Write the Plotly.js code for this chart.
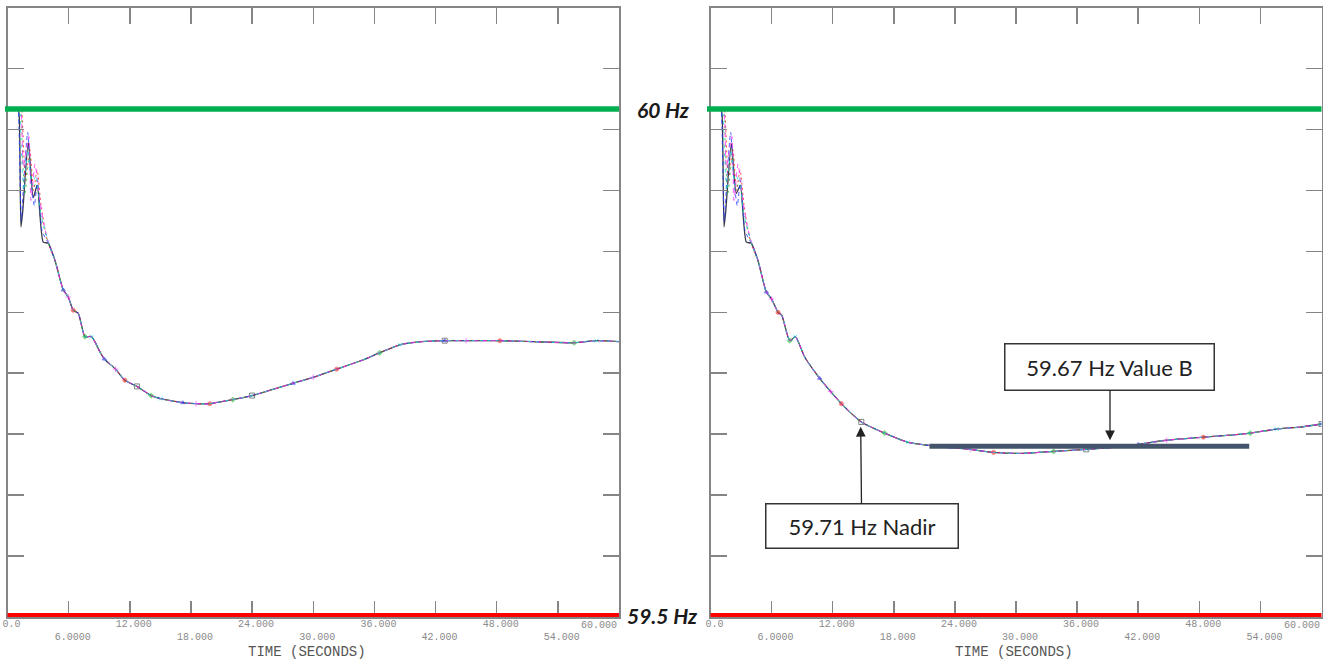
<!DOCTYPE html>
<html>
<head>
<meta charset="utf-8">
<script src="https://cdn.plot.ly/plotly-3.0.1.min.js"></script>
<style>html,body{margin:0;padding:0;background:#fff;}#chart{width:1323px;height:663px;}</style>
</head>
<body>
<div id="chart"></div>
<script>
// ---------- DATA ----------
// Left panel: base (black) frequency trace, time in seconds, frequency in Hz
const leftT = [0, 0.5, 1.0, 1.13, 1.32, 1.5, 2.04, 2.53, 2.92, 3.51, 4.0, 4.66, 5.47, 5.96, 6.45, 6.94, 7.6, 8.25, 9.07, 9.5, 10.6, 11.52, 12.7, 14.1, 15.0, 16.0, 17.2, 18.5, 19.85, 21.0, 22.1, 24.0, 25.7, 28.0, 30.0, 32.3, 34.6, 36.5, 38.5, 40.6, 42.9, 45.0, 48.3, 51.6, 55.6, 57.8, 60.0];
const leftF = [60.0, 60.0, 60.0, 59.996, 59.884, 59.900, 59.967, 59.913, 59.925, 59.869, 59.868, 59.851, 59.822, 59.815, 59.802, 59.799, 59.776, 59.776, 59.761, 59.754, 59.744, 59.733, 59.727, 59.718, 59.715, 59.713, 59.711, 59.710, 59.710, 59.712, 59.714, 59.718, 59.723, 59.730, 59.736, 59.744, 59.752, 59.760, 59.768, 59.771, 59.772, 59.772, 59.772, 59.771, 59.770, 59.772, 59.771];

// Right panel: base (black) frequency trace
const rightT = [0, 0.5, 1.0, 1.13, 1.33, 1.5, 2.05, 2.53, 2.93, 3.52, 4.0, 4.66, 5.48, 6.0, 6.63, 7.0, 7.78, 8.33, 9.25, 10.72, 11.8, 12.85, 14.81, 17.1, 19.4, 21.4, 23.5, 25.5, 27.8, 30.4, 33.7, 36.9, 39.6, 42.0, 44.8, 48.4, 51.0, 53.0, 55.6, 57.9, 60.0];
const rightF = [60.0, 60.0, 60.0, 59.995, 59.884, 59.900, 59.966, 59.917, 59.925, 59.869, 59.868, 59.851, 59.820, 59.813, 59.800, 59.797, 59.772, 59.776, 59.756, 59.735, 59.722, 59.710, 59.692, 59.681, 59.672, 59.669, 59.667, 59.665, 59.662, 59.661, 59.663, 59.665, 59.667, 59.670, 59.674, 59.677, 59.679, 59.681, 59.685, 59.687, 59.690];

// Early-oscillation segments of the other (dashed) simulation traces, same in both panels
const blueHeadT = [0, 1.0, 1.1, 1.35, 1.6, 1.98, 2.3, 2.63, 2.95, 3.4, 4.0];
const blueHeadF = [60.0, 60.0, 59.990, 59.890, 59.930, 59.977, 59.930, 59.905, 59.930, 59.880, 59.868];
const magentaHeadT = [0, 1.2, 1.4, 1.55, 2.1, 2.3, 2.7, 3.1, 3.6, 4.0];
const magentaHeadF = [60.0, 60.0, 59.985, 59.943, 59.973, 59.910, 59.946, 59.915, 59.885, 59.870];
const redHeadT = [0, 1.3, 1.5, 1.75, 2.2, 2.55, 2.9, 3.3, 3.8, 4.2];
const redHeadF = [60.0, 60.0, 59.980, 59.930, 59.960, 59.920, 59.940, 59.905, 59.875, 59.862];
const greenHeadT = [0, 1.2, 1.45, 1.7, 2.15, 2.5, 2.85, 3.3, 3.8, 4.2];
const greenHeadF = [60.0, 60.0, 59.960, 59.915, 59.955, 59.920, 59.930, 59.895, 59.875, 59.862];
const cyanHeadT = [0, 1.1, 1.3, 1.6, 2.0, 2.4, 2.8, 3.2, 3.7, 4.1];
const cyanHeadF = [60.0, 60.0, 59.970, 59.920, 59.960, 59.925, 59.935, 59.900, 59.880, 59.866];

// Reference levels and annotations
const upperHz = 60.0;
const lowerHz = 59.5;
const valueB = 59.668;
const valueBT = [21.5, 52.9];
const valueBF = [valueB, valueB];
const nadirLabel = "59.71 Hz Nadir";
const valueBLabel = "59.67 Hz Value B";

// Axis ticks
const xTickVals = [0, 6, 12, 18, 24, 30, 36, 42, 48, 54, 60];
const xTickText = ["0.0", "6.0000", "12.000", "18.000", "24.000", "30.000", "36.000", "42.000", "48.000", "54.000", "60.000"];
const axisTitle = "TIME (SECONDS)";

// ---------- BUILD ----------
function combine(hT, hF, bT, bF) {
  const last = hT[hT.length - 1];
  const t = hT.slice(), f = hF.slice();
  bT.forEach((v, i) => { if (v > last) { t.push(v); f.push(bF[i]); } });
  return {t, f, headLen: hT.length};
}

const variants = [
  {hT: blueHeadT, hF: blueHeadF, color: '#2a3cff', dash: '4px,3px', sym: 'triangle-up', k: 1},
  {hT: redHeadT, hF: redHeadF, color: '#ff2020', dash: '2px,3px', sym: 'circle', k: 3},
  {hT: greenHeadT, hF: greenHeadF, color: '#22c040', dash: '2px,4px', sym: 'diamond', k: 5},
  {hT: magentaHeadT, hF: magentaHeadF, color: '#ff30ff', dash: '5px,4px', sym: 'cross-thin-open', k: 2},
  {hT: cyanHeadT, hF: cyanHeadF, color: '#20d8d8', dash: '3px,5px', sym: 'x-thin-open', k: 6}
];

const traces = [];
function addPanel(baseT, baseF, xa, ya) {
  traces.push({
    x: baseT, y: baseF, xaxis: xa, yaxis: ya, type: 'scatter', mode: 'lines+markers',
    line: {color: '#3a3a4a', width: 1.3, shape: 'spline', smoothing: 0.6},
    marker: {symbol: 'square-open', color: '#555', size: baseT.map((v, i) => (i > 14 && i % 9 === 4) ? 5 : 0)},
    hoverinfo: 'skip'
  });
  variants.forEach(v => {
    const c = combine(v.hT, v.hF, baseT, baseF);
    traces.push({
      x: c.t, y: c.f, xaxis: xa, yaxis: ya, type: 'scatter', mode: 'lines+markers',
      line: {color: v.color, width: 1, dash: v.dash, shape: 'spline', smoothing: 0.6},
      opacity: 0.8,
      marker: {symbol: v.sym, color: v.color, size: c.t.map((t, i) => (i >= c.headLen && (i - c.headLen) % 7 === v.k) ? 4 : 0), line: {color: v.color, width: 1}},
      hoverinfo: 'skip'
    });
  });
}
addPanel(leftT, leftF, 'x', 'y');
addPanel(rightT, rightF, 'x2', 'y2');

// Value B bar
traces.push({
  x: valueBT, y: valueBF, xaxis: 'x2', yaxis: 'y2', type: 'scatter', mode: 'lines',
  line: {color: '#44546a', width: 5}, hoverinfo: 'skip'
});

const W = 1323, H = 663;
const yDom = [(H - 617) / H, (H - 7.5) / H];
const tickFont = {family: 'Liberation Mono, DejaVu Sans Mono, monospace', size: 10, color: '#8a8a8a'};
// alternate rows; last label is drawn right-aligned separately
const ticktextRows = xTickText.map((s, i) => i === xTickText.length - 1 ? '' : (i % 2 === 1 ? '<br>' + s : s));

function xAxis(dom, anchor) {
  return {
    domain: dom, anchor: anchor, range: [0, 60], showgrid: false, zeroline: false,
    showline: true, linecolor: '#858585', linewidth: 1.5, mirror: 'ticks',
    ticks: 'inside', ticklen: 16, tickwidth: 1.5, tickcolor: '#858585',
    tickmode: 'array', tickvals: xTickVals, ticktext: ticktextRows,
    tickfont: tickFont, ticklabelshift: 4, ticklabelstandoff: -4, automargin: false, fixedrange: true
  };
}
function yAxis(anchor) {
  return {
    domain: yDom, anchor: anchor, range: [59.5, 60.1], showgrid: false, zeroline: false,
    showline: true, linecolor: '#858585', linewidth: 1.5, mirror: 'ticks',
    ticks: 'inside', ticklen: 16, tickwidth: 1.5, tickcolor: '#858585',
    tick0: 59.5, dtick: 0.06, showticklabels: false, automargin: false, fixedrange: true
  };
}

const labelFont = {family: 'Lato, Open Sans, sans-serif', size: 22, color: '#222'};
const hzFont = {family: 'Lato, Open Sans, sans-serif', size: 21, color: '#1a1a1a', weight: 'bold', style: 'italic'};
const titleFont = {family: 'Liberation Mono, DejaVu Sans Mono, monospace', size: 14, color: '#555'};
const lastLabel = xTickText[xTickText.length - 1];
const lastVal = xTickVals[xTickVals.length - 1];

const layout = {
  width: W, height: H, margin: {l: 0, r: 0, t: 0, b: 0},
  paper_bgcolor: '#fff', plot_bgcolor: '#fff', showlegend: false,
  xaxis: xAxis([7.5 / W, 619 / W], 'y'),
  yaxis: yAxis('x'),
  xaxis2: xAxis([710.5 / W, 1321.5 / W], 'y2'),
  yaxis2: yAxis('x2'),
  shapes: [
    {type: 'line', xref: 'paper', yref: 'y', x0: 5 / W, x1: 619 / W, y0: upperHz, y1: upperHz, line: {color: '#00b050', width: 5.5}, layer: 'above'},
    {type: 'line', xref: 'paper', yref: 'y', x0: 7.5 / W, x1: 619 / W, y0: lowerHz + 0.0015, y1: lowerHz + 0.0015, line: {color: '#ff0000', width: 5}, layer: 'above'},
    {type: 'line', xref: 'paper', yref: 'y2', x0: 707 / W, x1: 1321.5 / W, y0: upperHz, y1: upperHz, line: {color: '#00b050', width: 5.5}, layer: 'above'},
    {type: 'line', xref: 'paper', yref: 'y2', x0: 710.5 / W, x1: 1321.5 / W, y0: lowerHz + 0.0015, y1: lowerHz + 0.0015, line: {color: '#ff0000', width: 5}, layer: 'above'}
  ],
  annotations: [
    {xref: 'paper', yref: 'y', x: 663 / W, y: upperHz, text: '60 Hz', showarrow: false, font: hzFont, xanchor: 'center', yanchor: 'middle'},
    {xref: 'paper', yref: 'y', x: 662.5 / W, y: lowerHz + 0.0015, text: '59.5 Hz', showarrow: false, font: hzFont, xanchor: 'center', yanchor: 'middle'},
    {xref: 'x', yref: 'paper', x: lastVal, y: (H - 618) / H, text: lastLabel, showarrow: false, font: tickFont, xanchor: 'right', yanchor: 'top'},
    {xref: 'x2', yref: 'paper', x: lastVal, y: (H - 618) / H, text: lastLabel, showarrow: false, font: tickFont, xanchor: 'right', yanchor: 'top'},
    {xref: 'x domain', yref: 'paper', x: 0.49, y: (H - 652) / H, text: axisTitle, showarrow: false, font: titleFont, xanchor: 'center', yanchor: 'middle'},
    {xref: 'x2 domain', yref: 'paper', x: 0.497, y: (H - 652) / H, text: axisTitle, showarrow: false, font: titleFont, xanchor: 'center', yanchor: 'middle'},
    {xref: 'x2', yref: 'y2', x: 39.23, y: 59.6741, ax: 0, ay: -73.5, text: valueBLabel, showarrow: true,
     arrowhead: 2, arrowsize: 1.5, arrowwidth: 1.3, arrowcolor: '#222', font: labelFont,
     bordercolor: '#333', borderwidth: 1.5, borderpad: 1, bgcolor: '#fff', width: 206, height: 43},
    {xref: 'x2', yref: 'y2', x: 14.75, y: 59.6872, ax: 1, ay: 98.8, text: nadirLabel, showarrow: true,
     arrowhead: 2, arrowsize: 1.5, arrowwidth: 1.3, arrowcolor: '#222', font: labelFont,
     bordercolor: '#333', borderwidth: 1.5, borderpad: 1, bgcolor: '#fff', width: 189, height: 41}
  ]
};

Plotly.newPlot('chart', traces, layout, {staticPlot: true, displayModeBar: false});
</script>
</body>
</html>
